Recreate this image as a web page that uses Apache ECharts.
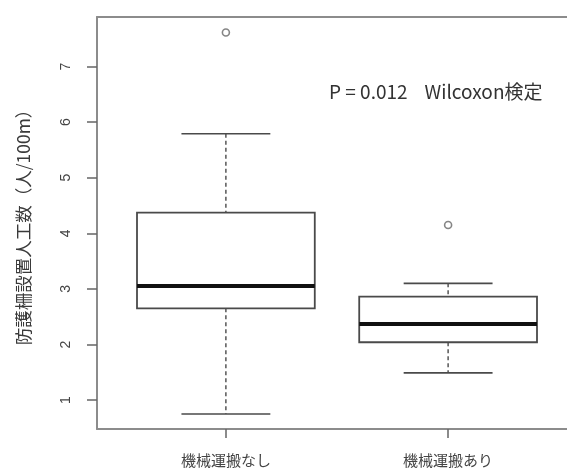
<!DOCTYPE html>
<html>
<head>
<meta charset="utf-8">
<script src="https://cdn.jsdelivr.net/npm/echarts@6/dist/echarts.min.js"></script>
<style>
html,body{margin:0;padding:0;background:#fff;}
#chart{width:567px;height:468px;}
</style>
</head>
<body>
<div id="chart"></div>
<script>
// ---- data ----
const categories = ['機械運搬なし', '機械運搬あり'];
const lowerWhisker = [0.75, 1.49];
const quartile1 = [2.65, 2.04];
const medians = [3.05, 2.37];
const quartile3 = [4.37, 2.86];
const upperWhisker = [5.79, 3.10];
const outlierGroup = [1, 2];
const outlierValue = [7.61, 4.15];
const yTicks = [1, 2, 3, 4, 5, 6, 7];
const xTicks = [1, 2];
const yName = '防護柵設置人工数（人/100m）';
const note = 'P = 0.012    Wilcoxon検定';

const boxData = categories.map((c, i) => [i + 1, lowerWhisker[i], quartile1[i], medians[i], quartile3[i], upperWhisker[i]]);
const outlierData = outlierGroup.map((g, i) => [g, outlierValue[i]]);

const boxColor = '#4a4a4a';
const frameColor = '#8c8c8c';
const cjk = "'Noto Sans CJK JP', 'Noto Sans', sans-serif";

function renderBox(params, api) {
  const x = api.value(0);
  const lo = api.coord([x, api.value(1)]);
  const q1 = api.coord([x, api.value(2)]);
  const md = api.coord([x, api.value(3)]);
  const q3 = api.coord([x, api.value(4)]);
  const hi = api.coord([x, api.value(5)]);
  const bw = api.size([0.8, 0])[0];
  const cw = bw / 4;
  const half = bw / 2;
  const cx = md[0];
  const solid = { stroke: boxColor, lineWidth: 1.6, fill: null };
  const dashed = { stroke: boxColor, lineWidth: 1.4, lineDash: [4, 3] };
  return {
    type: 'group',
    children: [
      { type: 'line', shape: { x1: cx, y1: hi[1], x2: cx, y2: q3[1] }, style: dashed },
      { type: 'line', shape: { x1: cx, y1: q1[1], x2: cx, y2: lo[1] }, style: dashed },
      { type: 'line', shape: { x1: cx - cw, y1: hi[1], x2: cx + cw, y2: hi[1] }, style: solid },
      { type: 'line', shape: { x1: cx - cw, y1: lo[1], x2: cx + cw, y2: lo[1] }, style: solid },
      { type: 'rect', shape: { x: cx - half, y: q3[1], width: bw, height: q1[1] - q3[1] }, style: { stroke: boxColor, lineWidth: 1.8, fill: '#fff' } },
      { type: 'line', shape: { x1: cx - half, y1: md[1], x2: cx + half, y2: md[1] }, style: { stroke: '#111', lineWidth: 4 } }
    ]
  };
}

const frameLine = { show: true, lineStyle: { color: frameColor, width: 2 } };

const chart = echarts.init(document.getElementById('chart'), null, { renderer: 'canvas' });
chart.setOption({
  backgroundColor: '#fff',
  animation: false,
  title: {
    text: note,
    left: 329,
    top: 82,
    padding: 0,
    textStyle: { fontFamily: cjk, fontSize: 19, fontWeight: 'normal', color: '#333' }
  },
  grid: {
    left: 97, top: 17, right: 0, height: 413,
    show: false
  },
  xAxis: [
    {
      type: 'value', min: 0.42, max: 2.535,
      axisLine: frameLine,
      splitLine: { show: false },
      axisTick: { show: true, customValues: xTicks, length: 9, lineStyle: { color: '#666', width: 1.5 } },
      axisLabel: {
        customValues: xTicks, margin: 24,
        formatter: v => categories[Math.round(v) - 1] || '',
        fontFamily: cjk, fontSize: 15, color: '#444'
      }
    },
    {
      type: 'value', position: 'top', min: 0.42, max: 2.535,
      axisLine: frameLine,
      splitLine: { show: false },
      axisTick: { show: false },
      axisLabel: { show: false }
    }
  ],
  yAxis: {
    type: 'value', min: 0.48, max: 7.89,
    name: yName, nameLocation: 'middle', nameGap: 65, nameRotate: 90,
    nameTextStyle: { fontFamily: cjk, fontSize: 17.5, color: '#3a3a3a' },
    axisLine: frameLine,
    splitLine: { show: false },
    axisTick: { show: true, customValues: yTicks, length: 10, lineStyle: { color: '#666', width: 1.5 } },
    axisLabel: {
      customValues: yTicks, rotate: 90, margin: 24,
      fontFamily: "'Liberation Sans', sans-serif", fontSize: 14, color: '#444'
    }
  },
  series: [
    {
      type: 'custom',
      renderItem: renderBox,
      data: boxData,
      encode: { x: 0, y: [1, 2, 3, 4, 5] },
      z: 2
    },
    {
      type: 'scatter',
      data: outlierData,
      symbol: 'circle',
      symbolSize: 7,
      itemStyle: { color: '#fff', borderColor: '#666', borderWidth: 1.6 },
      z: 3
    }
  ]
});
</script>
</body>
</html>
